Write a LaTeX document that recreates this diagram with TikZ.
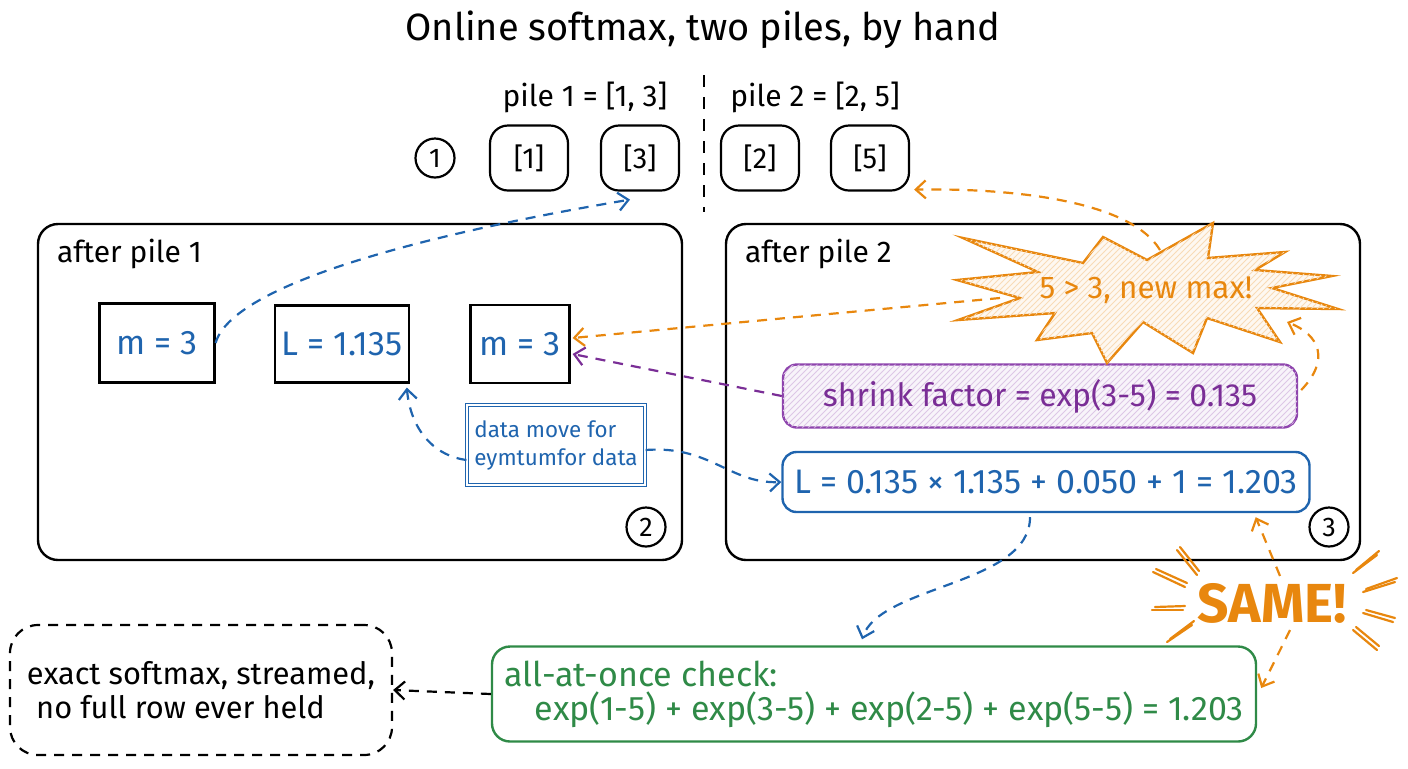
\documentclass[tikz,border=0pt]{standalone}
\usepackage{fontspec}
\setmainfont{Fira Sans}
\usetikzlibrary{arrows.meta,patterns,calc}
\definecolor{cblue}{HTML}{1F64AE}
\definecolor{corange}{HTML}{E8870E}
\definecolor{cpurple}{HTML}{7A2E96}
\definecolor{cpurpleb}{HTML}{8E44AD}
\definecolor{cgreen}{HTML}{2F8A47}
\begin{document}
\begin{tikzpicture}[x=0.5pt,y=-0.5pt,
  panel/.style={draw=black, line width=1.2pt, rounded corners=10pt, minimum width=322pt, minimum height=168pt, inner sep=0pt},
  cell/.style={draw, line width=1.1pt, rounded corners=9pt, minimum width=39pt, minimum height=32.5pt, font=\fontsize{14.5}{16}\selectfont},
  vbox/.style={draw, line width=1.1pt, text=cblue, font=\fontsize{17}{19}\selectfont},
  numc/.style={circle, draw, line width=1.1pt, minimum size=19.5pt, inner sep=0pt, font=\fontsize{13.5}{15}\selectfont},
  lbl/.style={font=\fontsize{15}{17}\selectfont},
  dasharr/.style={dash pattern=on 5pt off 4pt, line width=1.1pt, -{Straight Barb[length=5pt,width=9pt]}}
]
\useasboundingbox (0,0) rectangle (1408,768);

% title
\node[font=\fontsize{19}{22}\selectfont] (title) at (703,30) {Online softmax, two piles, by hand};

% top row
\node[lbl] (p1) at (585,97) {pile 1 = [1, 3]};
\node[lbl] (p2) at (815,97) {pile 2 = [2, 5]};
\draw[line width=1.1pt, dash pattern=on 6pt off 5pt] (704,75) -- (704,212);
\node[numc] (c1) at (435,158) {1};
\node[cell] (b1) at (529,158) {[1]};
\node[cell] (b3) at (640,158) {[3]};
\node[cell] (b2) at (760,158) {[2]};
\node[cell] (b5) at (870,158) {[5]};

% panels
\node[panel] (left) at (360,392) {};
\node[panel, minimum width=317pt] (right) at (1043,392) {};
\node[lbl, anchor=west] (lt) at (50,254) {after pile 1};
\node[lbl, anchor=west] (rt) at (738,254) {after pile 2};
\node[numc] (c2) at (646,527) {2};
\node[numc] (c3) at (1329,527) {3};

% left panel contents
\node[vbox, minimum width=57.5pt, minimum height=39.5pt] (mA) at (157,343) {m = 3};
\node[vbox, minimum width=65.5pt, minimum height=38.5pt] (LA) at (342,344) {L = 1.135};
\node[vbox, minimum width=49.5pt, minimum height=39pt] (mB) at (520,344) {m = 3};
\node[draw=cblue, double=white, double distance=1pt, line width=0.6pt, text=cblue, align=left,
      minimum width=89pt, minimum height=40pt, font=\fontsize{11.2}{14}\selectfont] (note) at (556,445)
      {data move for\\eymtumfor data};

% right panel contents
\node[draw=cpurpleb, line width=1.2pt, rounded corners=7pt, text=cpurple, fill=cpurpleb!6,
      postaction={pattern=north east lines, pattern color=cpurpleb!30},
      minimum width=257pt, minimum height=31.5pt, font=\fontsize{16}{18}\selectfont] (shrink) at (1040,396)
      {shrink factor = exp(3-5) = 0.135};
\node[draw=cblue, line width=1.2pt, rounded corners=7pt, text=cblue,
      minimum width=263.5pt, minimum height=30pt, font=\fontsize{17}{19}\selectfont] (Lbox) at (1046,482)
      {L = 0.135 × 1.135 + 0.050 + 1 = 1.203};

% bottom
\node[draw=cgreen, line width=1.2pt, rounded corners=9pt, text=cgreen, align=left,
      minimum width=382pt, minimum height=47.5pt, font=\fontsize{17}{17}\selectfont] (green) at (874,694)
      {all-at-once check:\\\hspace*{0.9em}exp(1-5) + exp(3-5) + exp(2-5) + exp(5-5) = 1.203};
\node[draw, line width=1.1pt, dash pattern=on 5pt off 4pt, rounded corners=14pt, align=left,
      minimum width=191pt, minimum height=65pt, font=\fontsize{15.4}{17}\selectfont] (final) at (201,690)
      {exact softmax, streamed,\\\hspace*{0.3em}no full row ever held};

% coordinates on the starburst
\coordinate (stleft) at (1000,298);
\coordinate (sttop) at (1160,250);
\coordinate (stlr) at (1287,322);

% connectors behind the star
\draw[dasharr, corange] (stleft) -- ($(mB.east)+(2,-6)$);
\draw[dasharr, corange] (sttop) .. controls (1130,200) and (1010,188) .. ($(b5.south east)+(4,-2)$);

% starburst
\draw[corange, line width=1.2pt, line join=miter, fill=corange!6,
      postaction={pattern=north east lines, pattern color=corange!30}]
  (963,238) -- (1083,263) -- (1103,237) -- (1147,260) -- (1213,223) -- (1208,258) --
  (1285,252) -- (1255,270) -- (1332,276) -- (1272,288) -- (1338,309) -- (1257,308) --
  (1280,342) -- (1207,318) -- (1193,353) -- (1143,322) -- (1107,363) -- (1092,333) --
  (1037,340) -- (1055,313) -- (958,320) -- (1020,298) -- (957,280) -- (1038,272) -- cycle;
\node[text=corange, font=\fontsize{15.7}{18}\selectfont] (star) at (1146,290) {5 > 3, new max!};

% other connectors
\draw[dasharr, cblue] (mA.east) .. controls (232,285) and (420,235) .. ($(b3.south)+(-10,8)$);
\draw[dasharr, cpurple] (shrink.west) -- ($(mB.east)+(2,10)$);
\draw[dasharr, cblue] ($(note.east)+(0,5)$) .. controls (710,445) and (730,484) .. (Lbox.west);
\draw[dasharr, cblue] ($(note.west)+(0,15)$) .. controls (430,455) and (410,425) .. ($(LA.south east)+(-3,4)$);
\draw[dasharr, corange] ($(shrink.east)+(3,-6)$) .. controls (1330,360) and (1320,335) .. (stlr);
\draw[dasharr, cblue] ($(Lbox.south)+(-16,4)$) .. controls (1030,585) and (880,585) .. ($(green.north)+(-12,-6)$);

% SAME!
\node[text=corange, font=\bfseries\fontsize{27.5}{30}\selectfont] (same) at (1272,603) {SAME!};
\draw[dasharr, corange] ($(same.north)+(8,0)$) -- ($(Lbox.south east)+(-55,4)$);
\draw[dasharr, corange] ($(same.south)+(18,0)$) -- ($(green.east)+(4,-6)$);
\begin{scope}[corange, line width=1.1pt, line cap=round]
  \foreach \a/\b/\c/\d in {1177/550/1197/575, 1153/572/1185/587, 1152/610/1183/610, 1167/642/1192/625,
                           1353/573/1377/555, 1363/592/1395/582, 1363/613/1393/622, 1353/630/1377/650}{
    \draw (\a,\b) -- (\c,\d);
    \draw ($(\a,\b)+(3,-3)$) -- ($(\c,\d)+(2,-4)$);
  }
\end{scope}

\draw[dasharr, black] (green.west) -- (final.east);
\end{tikzpicture}
\end{document}
